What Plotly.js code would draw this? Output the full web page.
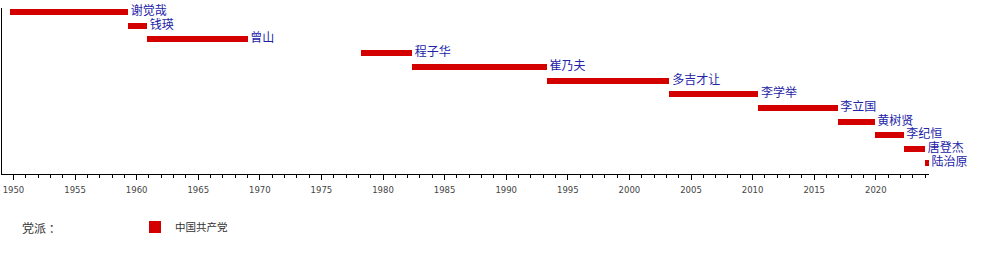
<!DOCTYPE html>
<html>
<head>
<meta charset="utf-8">
<script src="https://cdn.plot.ly/plotly-3.0.1.min.js"></script>
<style>
  html, body { margin: 0; padding: 0; background: #fff; }
  #chart { width: 1000px; height: 253px; }
</style>
</head>
<body>
<div id="chart"></div>
<script>
// 历任部长及任期（以年份的小数表示）
const names = ['谢觉哉', '钱瑛', '曾山', '程子华', '崔乃夫', '多吉才让', '李学举', '李立国', '黄树贤', '李纪恒', '唐登杰', '陆治原'];
const termStart = [1949.75, 1959.3, 1960.85, 1978.2, 1982.35, 1993.3, 2003.25, 2010.47, 2016.9, 2019.9, 2022.26, 2024.0];
const termEnd   = [1959.3, 1960.85, 1969.0, 1982.35, 1993.3, 2003.25, 2010.47, 2016.9, 2019.9, 2022.26, 2024.0, 2024.3];
const partyName = '中国共产党';
const legendTitle = '党派 ：';

const durations = termEnd.map((e, i) => e - termStart[i]);

const bars = {
  type: 'bar',
  orientation: 'h',
  y: names,
  base: termStart,
  x: durations,
  width: 0.44,
  name: partyName,
  marker: { color: '#d40000', line: { width: 0 } },
  cliponaxis: false,
  hoverinfo: 'skip',
  showlegend: true
};

const labels = {
  type: 'scatter',
  mode: 'text',
  y: names,
  x: termEnd,
  text: names.map(n => ' ' + n),
  textposition: 'middle right',
  textfont: { family: 'Noto Sans CJK SC', size: 12, color: '#2323a8' },
  cliponaxis: false,
  hoverinfo: 'skip',
  showlegend: false
};

const layout = {
  width: 1000,
  height: 253,
  margin: { l: 2, r: 71, t: 8, b: 79 },
  paper_bgcolor: '#fff',
  plot_bgcolor: '#fff',
  bargap: 0,
  showlegend: true,
  xaxis: {
    range: [1949.07, 2024.32],
    showline: true,
    linecolor: '#000',
    linewidth: 1,
    showgrid: false,
    zeroline: false,
    ticks: 'outside',
    ticklen: 5,
    tickwidth: 1,
    tickcolor: '#000',
    tick0: 1950,
    dtick: 5,
    ticklabelstandoff: 3,
    tickfont: { family: 'DejaVu Sans', size: 8.5, color: '#444' },
    minor: { dtick: 1, tick0: 1950, ticks: 'outside', ticklen: 3, tickwidth: 1, tickcolor: '#000', showgrid: false },
    fixedrange: true
  },
  yaxis: {
    type: 'category',
    range: [11.82, -0.29],
    showline: true,
    linecolor: '#000',
    linewidth: 1,
    showgrid: false,
    zeroline: false,
    showticklabels: false,
    ticks: '',
    fixedrange: true
  },
  legend: {
    orientation: 'h',
    xref: 'container',
    yref: 'container',
    x: 0.135,
    xanchor: 'left',
    y: 1 - 227 / 253,
    yanchor: 'middle',
    bgcolor: 'rgba(0,0,0,0)',
    font: { family: 'Noto Sans CJK SC', size: 10.5, color: '#333' }
  },
  annotations: [{
    text: legendTitle,
    xref: 'paper',
    yref: 'paper',
    x: (20 - 2) / 927,
    y: (174 - 227.5) / 166,
    xanchor: 'left',
    yanchor: 'middle',
    showarrow: false,
    font: { family: 'Noto Sans CJK SC', size: 12, color: '#333' }
  }]
};

Plotly.newPlot('chart', [bars, labels], layout, { displayModeBar: false, staticPlot: true });
</script>
</body>
</html>
